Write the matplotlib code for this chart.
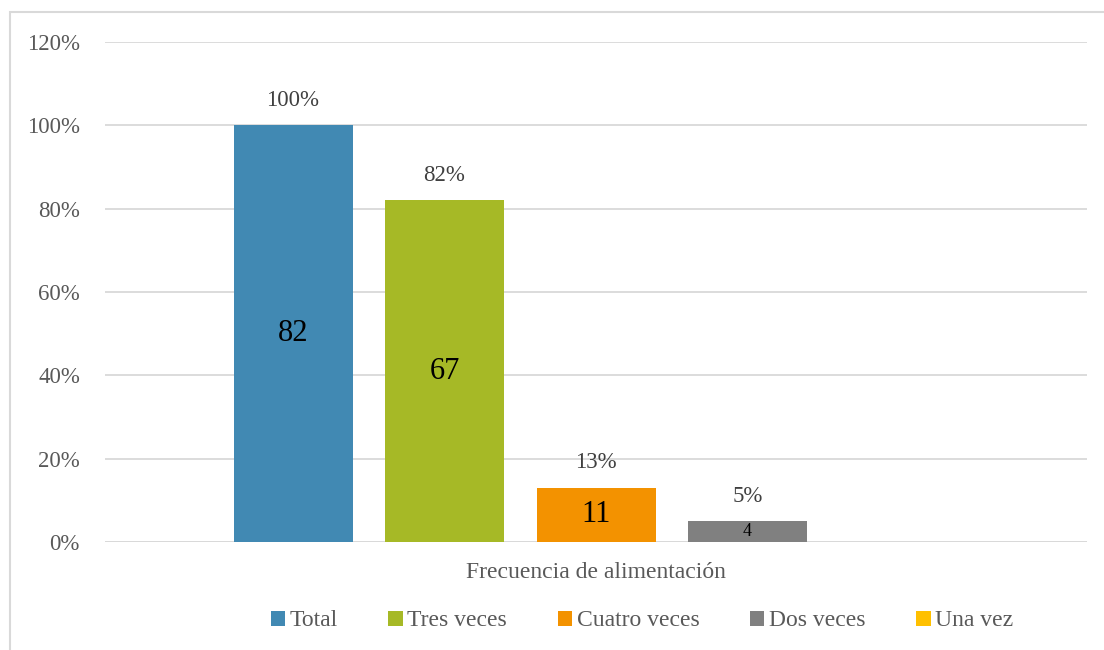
import matplotlib.pyplot as plt
from matplotlib.patches import Rectangle

plt.rcParams['font.family'] = ['Liberation Serif', 'DejaVu Serif']

# datos
series = ['Total', 'Tres veces', 'Cuatro veces', 'Dos veces', 'Una vez']
porcentajes = [1.00, 0.82, 0.13, 0.05, 0.0]
conteos = [82, 67, 11, 4, None]
colores = ['#4189B3', '#A6B926', '#F39200', '#808080', '#FFC000']
categoria = 'Frecuencia de alimentación'
ticks = [0, 0.2, 0.4, 0.6, 0.8, 1.0, 1.2]

fig = plt.figure(figsize=(11.04, 6.5), dpi=100)
ax = fig.add_axes([105 / 1104, 1 - 542 / 650, 982 / 1104, 500 / 650])

paso = 151.5 / 982
ancho = 119 / 982
tam_dentro = [22, 22, 22, 13, 13]

for i, (s, p, c, col) in enumerate(zip(series, porcentajes, conteos, colores)):
    x = (i - 2) * paso
    ax.bar(x, p, width=ancho, color=col, label=s, zorder=3)
    if c is not None:
        ax.text(x, p + 0.06, f'{p:.0%}', ha='center', va='center',
                fontsize=16.5, color='#404040')
        ax.text(x, p / 2, str(c), ha='center', va='center',
                fontsize=tam_dentro[i], color='black', zorder=4)

ax.set_xlim(-0.5, 0.5)
ax.set_ylim(0, 1.2)
ax.set_yticks(ticks)
ax.set_yticklabels([f'{t:.0%}' for t in ticks], fontsize=16.5, color='#595959')
ax.set_xticks([])
ax.grid(axis='y', color='#D9D9D9', linewidth=1.3, zorder=0)
ax.tick_params(axis='y', length=0, pad=18)
for sp in ax.spines.values():
    sp.set_visible(False)
ax.axhline(0, color='#D9D9D9', linewidth=1.3, zorder=2)

fig.text(596 / 1104, 1 - 573 / 650, categoria, ha='center', va='center',
         fontsize=17, color='#595959')

fig.legend(loc='center', bbox_to_anchor=(642 / 1104, 1 - 621 / 650), ncol=5,
           frameon=False, fontsize=17, handlelength=0.6, handleheight=0.6,
           handletextpad=0.2, columnspacing=2.15, labelcolor='#595959')

fig.patches.append(Rectangle((10 / 1104, -0.05), 1.1, 1 - 12 / 650 + 0.05,
                             transform=fig.transFigure, fill=False,
                             edgecolor='#D9D9D9', linewidth=1.5))

fig.savefig('out.png', dpi=100)
